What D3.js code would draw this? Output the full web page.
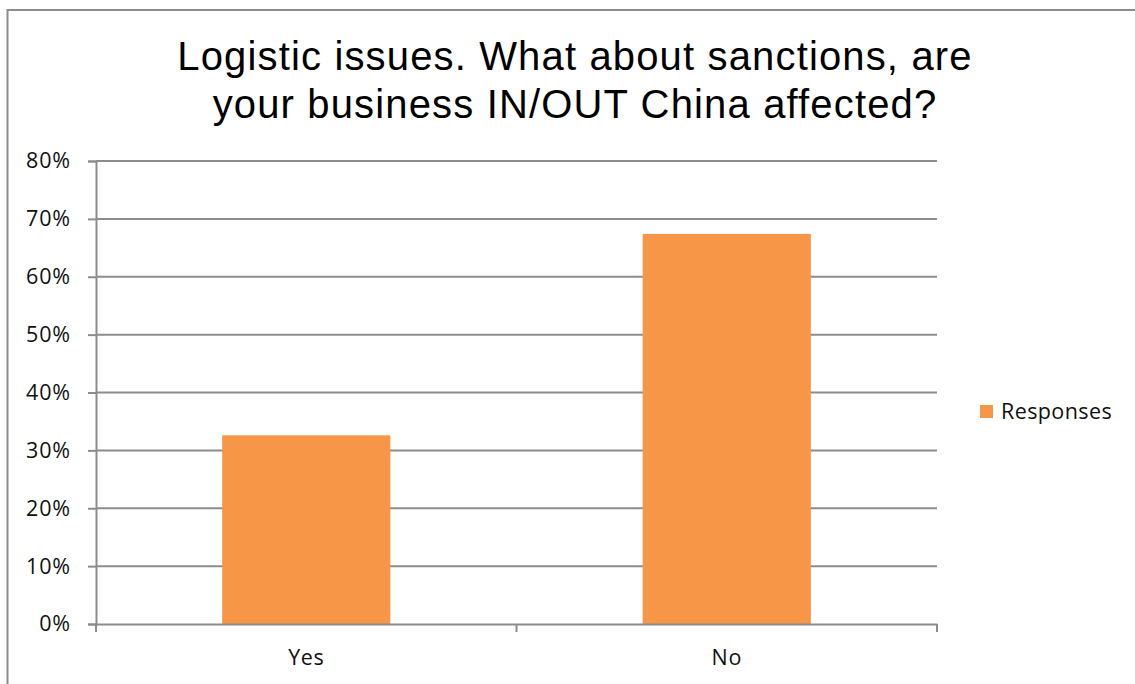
<!DOCTYPE html>
<html><head><meta charset="utf-8">
<script src="https://cdn.jsdelivr.net/npm/d3@7"></script>
<style>html,body{margin:0;padding:0;background:#fff;}svg{display:block;}</style>
</head><body>
<svg id="chart" width="1135" height="684"></svg>
<script>
const categories = ["Yes", "No"];
const responses = [0.326, 0.674];
const yTicks = [0, 0.1, 0.2, 0.3, 0.4, 0.5, 0.6, 0.7, 0.8];
const seriesName = "Responses";
const titleLines = ["Logistic issues. What about sanctions, are", "your business IN/OUT China affected?"];

const svg = d3.select("#chart");
const gridColor = "#8c8c8c";
const barColor = "#F79646";
const labelFont = "'Open Sans', 'Noto Sans', sans-serif";
const labelSize = "21.5px";

// outer frame
svg.append("rect").attr("x", 7.5).attr("y", 10).attr("width", 1140).attr("height", 700)
  .attr("fill", "none").attr("stroke", gridColor).attr("stroke-width", 2);

const plot = {left: 96, right: 937, top: 161, bottom: 624};
const x = d3.scaleBand().domain(categories).range([plot.left, plot.right]).paddingInner(0.6).paddingOuter(0.3);
const y = d3.scaleLinear().domain([0, 0.8]).range([plot.bottom, plot.top]);

// gridlines
svg.append("g").selectAll("line").data(yTicks.filter(d => d > 0)).join("line")
  .attr("x1", plot.left).attr("x2", plot.right)
  .attr("y1", d => y(d)).attr("y2", d => y(d))
  .attr("stroke", gridColor).attr("stroke-width", 2);

// bars
svg.append("g").selectAll("rect").data(categories).join("rect")
  .attr("x", d => x(d)).attr("width", x.bandwidth())
  .attr("y", (d, i) => y(responses[i])).attr("height", (d, i) => y(0) - y(responses[i]))
  .attr("fill", barColor);

// y axis
const yAxis = svg.append("g").attr("transform", `translate(${plot.left},0)`)
  .call(d3.axisLeft(y).tickValues(yTicks).tickFormat(d3.format(".0%")).tickSize(8).tickPadding(17));
yAxis.select(".domain").attr("stroke", gridColor).attr("stroke-width", 2);
yAxis.selectAll(".tick line").attr("stroke", gridColor).attr("stroke-width", 2);
yAxis.selectAll(".tick text").attr("fill", "#111").style("font-family", labelFont)
  .style("font-size", labelSize).style("letter-spacing", "0.9px");

// x axis
const xAxis = svg.append("g").attr("transform", `translate(0,${plot.bottom})`)
  .call(d3.axisBottom(x).tickSize(0).tickPadding(26));
xAxis.select(".domain").attr("stroke", gridColor).attr("stroke-width", 2);
xAxis.selectAll(".tick text").attr("fill", "#111").style("font-family", labelFont)
  .style("font-size", labelSize).style("letter-spacing", "0.6px");
// category boundary ticks
const bounds = [plot.left, plot.left + (plot.right - plot.left) / 2, plot.right];
xAxis.selectAll("line.bound").data(bounds).join("line").attr("class", "bound")
  .attr("x1", d => d).attr("x2", d => d).attr("y1", 0).attr("y2", 8)
  .attr("stroke", gridColor).attr("stroke-width", 2);

// title
svg.append("text").attr("text-anchor", "middle")
  .style("font-family", "'Liberation Sans', Arial, sans-serif").style("font-size", "40px")
  .style("letter-spacing", "1.15px").attr("fill", "#000")
  .selectAll("tspan").data(titleLines).join("tspan")
  .attr("x", 575).attr("y", (d, i) => 70 + i * 48).text(d => d);

// legend
const lg = svg.append("g").attr("transform", "translate(980,405)");
lg.append("rect").attr("width", 13).attr("height", 13).attr("fill", barColor);
lg.append("text").attr("x", 21).attr("y", 14).text(seriesName)
  .style("font-family", labelFont).style("font-size", labelSize).style("letter-spacing", "0.4px").attr("fill", "#111");
</script>
</body></html>
